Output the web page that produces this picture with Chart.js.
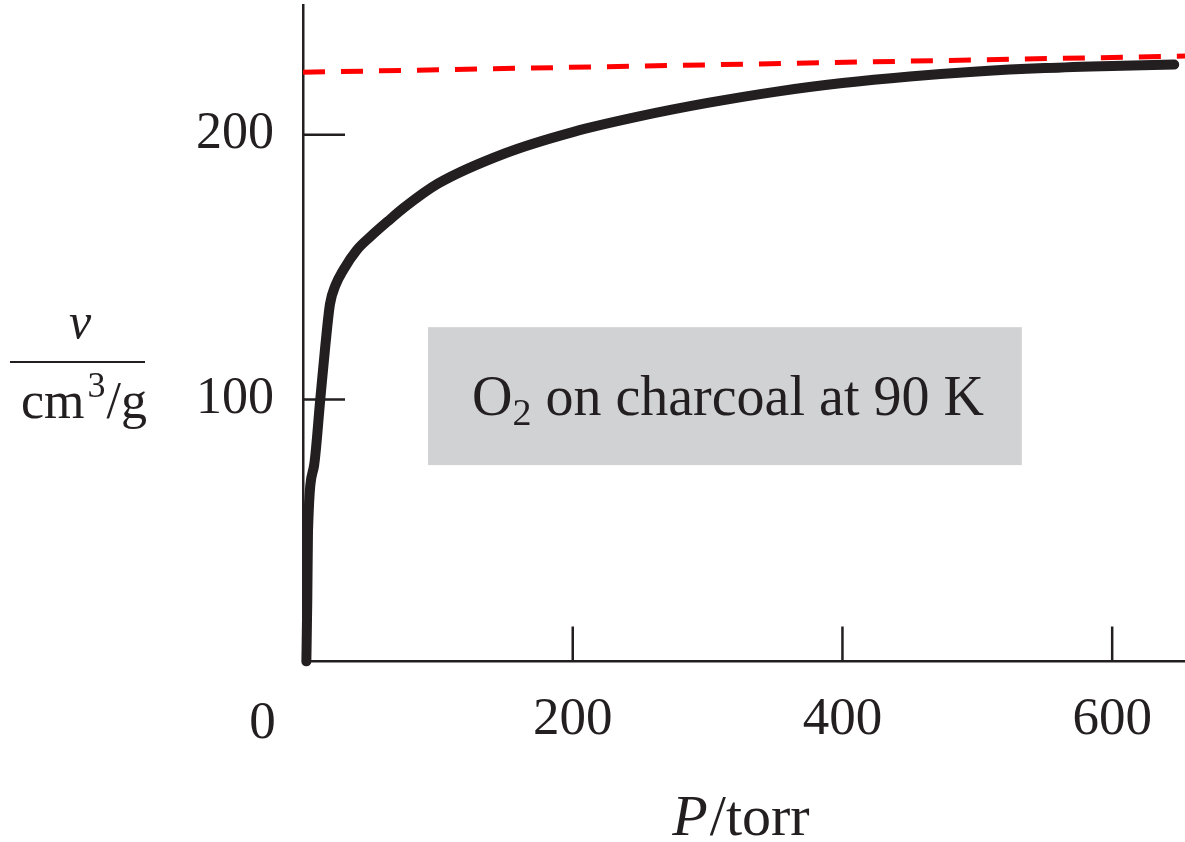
<!DOCTYPE html>
<html>
<head>
<meta charset="utf-8">
<script src="https://cdn.jsdelivr.net/npm/chart.js@4.4.1/dist/chart.umd.min.js"></script>
<style>
    html, body { margin: 0; padding: 0; background: #fff; }
    #wrap { width: 1185px; height: 842px; }
</style>
</head>
<body>
<div id="wrap"><canvas id="isotherm" width="1185" height="842"></canvas></div>
<script>
// Isotherme : O2 sur charbon à 90 K
const pressure = [2.5, 3.2, 3.7, 8.2, 12.8, 16.5, 20, 24, 30, 40, 50, 64.5, 75, 100, 150, 200, 250, 300, 350, 400, 450, 500, 550, 600, 646];
const volume   = [1, 25, 50, 75, 100, 120, 136, 143, 149, 156.5, 161.5, 168, 172.5, 181.5, 193, 201, 207, 212, 216.2, 219.5, 222, 223.9, 225.2, 226, 226.5];

// Asymptote (tirets rouges)
const limitPressure = [0, 654];
const limitVolume   = [223.6, 229.7];

const xTickValues = [200, 400, 600];
const yTickValues = [100, 200];
const originLabel = '0';
const noteText = ['O', '2', ' on charcoal at 90 K'];

const INK = '#231f20';
const SERIF = '"Liberation Serif", "Times New Roman", serif';

// Cadre gris de l'annotation (unités des données)
const noteBox = { x0: 92.7, x1: 533, y0: 127.3, y1: 75.2 };

const decorPlugin = {
    id: 'decor',
    beforeDatasetsDraw(chart) {
        const { ctx, chartArea: a, scales: { x, y } } = chart;
        ctx.save();

        // Encadré
        ctx.fillStyle = '#d1d2d4';
        const bx0 = x.getPixelForValue(noteBox.x0), bx1 = x.getPixelForValue(noteBox.x1);
        const by0 = y.getPixelForValue(noteBox.y0), by1 = y.getPixelForValue(noteBox.y1);
        ctx.fillRect(bx0, by0, bx1 - bx0, by1 - by0);

        // Graduations vers l'intérieur
        ctx.strokeStyle = INK;
        ctx.lineWidth = 2.5;
        xTickValues.forEach(v => {
            const px = x.getPixelForValue(v);
            ctx.beginPath();
            ctx.moveTo(px, a.bottom);
            ctx.lineTo(px, a.bottom - 35);
            ctx.stroke();
        });
        yTickValues.forEach(v => {
            const py = y.getPixelForValue(v);
            ctx.beginPath();
            ctx.moveTo(a.left, py);
            ctx.lineTo(a.left + 42, py);
            ctx.stroke();
        });
        ctx.restore();
    },
    afterDraw(chart) {
        const { ctx, scales: { x, y } } = chart;
        ctx.save();
        ctx.fillStyle = INK;
        ctx.textBaseline = 'alphabetic';

        // Origine "0" décalée à gauche
        ctx.font = '53px ' + SERIF;
        ctx.textAlign = 'center';
        ctx.fillText(originLabel, x.getPixelForValue(-30), 738);

        // Texte de l'encadré
        const cx = (x.getPixelForValue(noteBox.x0) + x.getPixelForValue(noteBox.x1)) / 2;
        const cy = (y.getPixelForValue(noteBox.y0) + y.getPixelForValue(noteBox.y1)) / 2;
        const big = '56px ' + SERIF, small = '38px ' + SERIF;
        ctx.font = big;  const w0 = ctx.measureText(noteText[0]).width;
        ctx.font = small; const w1 = ctx.measureText(noteText[1]).width;
        ctx.font = big;  const w2 = ctx.measureText(noteText[2]).width;
        let tx = cx - (w0 + w1 + w2) / 2 + 3;
        const base = cy + 19;
        ctx.textAlign = 'left';
        ctx.font = big;   ctx.fillText(noteText[0], tx, base); tx += w0;
        ctx.font = small; ctx.fillText(noteText[1], tx, base + 10); tx += w1;
        ctx.font = big;   ctx.fillText(noteText[2], tx, base);

        // Titre de l'axe X : P/torr
        const it = 'italic 58px ' + SERIF, rg = '58px ' + SERIF;
        ctx.font = it; const wp = ctx.measureText('P').width;
        ctx.font = rg; const wt = ctx.measureText('/torr').width;
        let xx = 740 - (wp + wt) / 2;
        ctx.font = it; ctx.fillText('P', xx, 835);
        ctx.font = rg; ctx.fillText('/torr', xx + wp + 2, 835);

        // Titre de l'axe Y : v / (cm^3/g)
        ctx.textAlign = 'center';
        ctx.font = 'italic 50px ' + SERIF;
        ctx.fillText('v', 80, 338);
        ctx.strokeStyle = INK;
        ctx.lineWidth = 2;
        ctx.beginPath();
        ctx.moveTo(10, 362);
        ctx.lineTo(145, 362);
        ctx.stroke();

        const lab = '52px ' + SERIF, sup = '36px ' + SERIF;
        ctx.textAlign = 'left';
        ctx.font = lab; const wcm = ctx.measureText('cm').width;
        ctx.font = sup; const w3 = ctx.measureText('3').width;
        ctx.font = lab; const wg = ctx.measureText('/g').width;
        let ux = 84 - (wcm + w3 + 4 + wg) / 2;
        ctx.font = lab; ctx.fillText('cm', ux, 418); ux += wcm + 3;
        ctx.font = sup; ctx.fillText('3', ux, 397); ux += w3 + 1;
        ctx.font = lab; ctx.fillText('/g', ux, 418);

        ctx.restore();
    }
};

function initChart() {
    const ctx = document.getElementById('isotherm').getContext('2d');
    return new Chart(ctx, {
        type: 'line',
        data: {
            datasets: [{
                label: 'O2 / charbon',
                data: pressure.map((p, i) => ({ x: p, y: volume[i] })),
                borderColor: INK,
                borderWidth: 10,
                pointRadius: 0,
                cubicInterpolationMode: 'monotone',
                borderJoinStyle: 'round',
                borderCapStyle: 'round',
                fill: false,
                clip: 5
            }, {
                label: 'limite',
                data: limitPressure.map((p, i) => ({ x: p, y: limitVolume[i] })),
                borderColor: '#ff0000',
                borderWidth: 5,
                borderDash: [22, 16],
                pointRadius: 0,
                fill: false,
                clip: 5
            }]
        },
        options: {
            responsive: false,
            animation: false,
            layout: { padding: { top: 5, right: 0, left: 0, bottom: 0 } },
            plugins: {
                legend: { display: false },
                tooltip: { enabled: false }
            },
            scales: {
                x: {
                    type: 'linear',
                    position: 'bottom',
                    min: 0,
                    max: 654,
                    afterBuildTicks: (scale) => { scale.ticks = xTickValues.map(v => ({ value: v })); },
                    afterFit: (scale) => {
                        scale.height = 842 - 661.5;
                        scale.paddingLeft = 0;
                        scale.paddingRight = 0;
                    },
                    grid: { display: false },
                    border: { display: true, color: INK, width: 2.5 },
                    ticks: {
                        font: { family: SERIF, size: 53 },
                        color: INK,
                        padding: 19,
                        maxRotation: 0
                    }
                },
                y: {
                    type: 'linear',
                    min: 1,
                    max: 249,
                    afterBuildTicks: (scale) => { scale.ticks = yTickValues.map(v => ({ value: v })); },
                    afterFit: (scale) => {
                        scale.width = 303;
                        scale.paddingTop = 0;
                        scale.paddingBottom = 0;
                    },
                    grid: { display: false },
                    border: { display: true, color: INK, width: 2.5 },
                    ticks: {
                        font: { family: SERIF, size: 52 },
                        color: INK,
                        padding: 21
                    }
                }
            }
        },
        plugins: [decorPlugin]
    });
}

document.addEventListener('DOMContentLoaded', () => {
    initChart();
});
</script>
</body>
</html>
